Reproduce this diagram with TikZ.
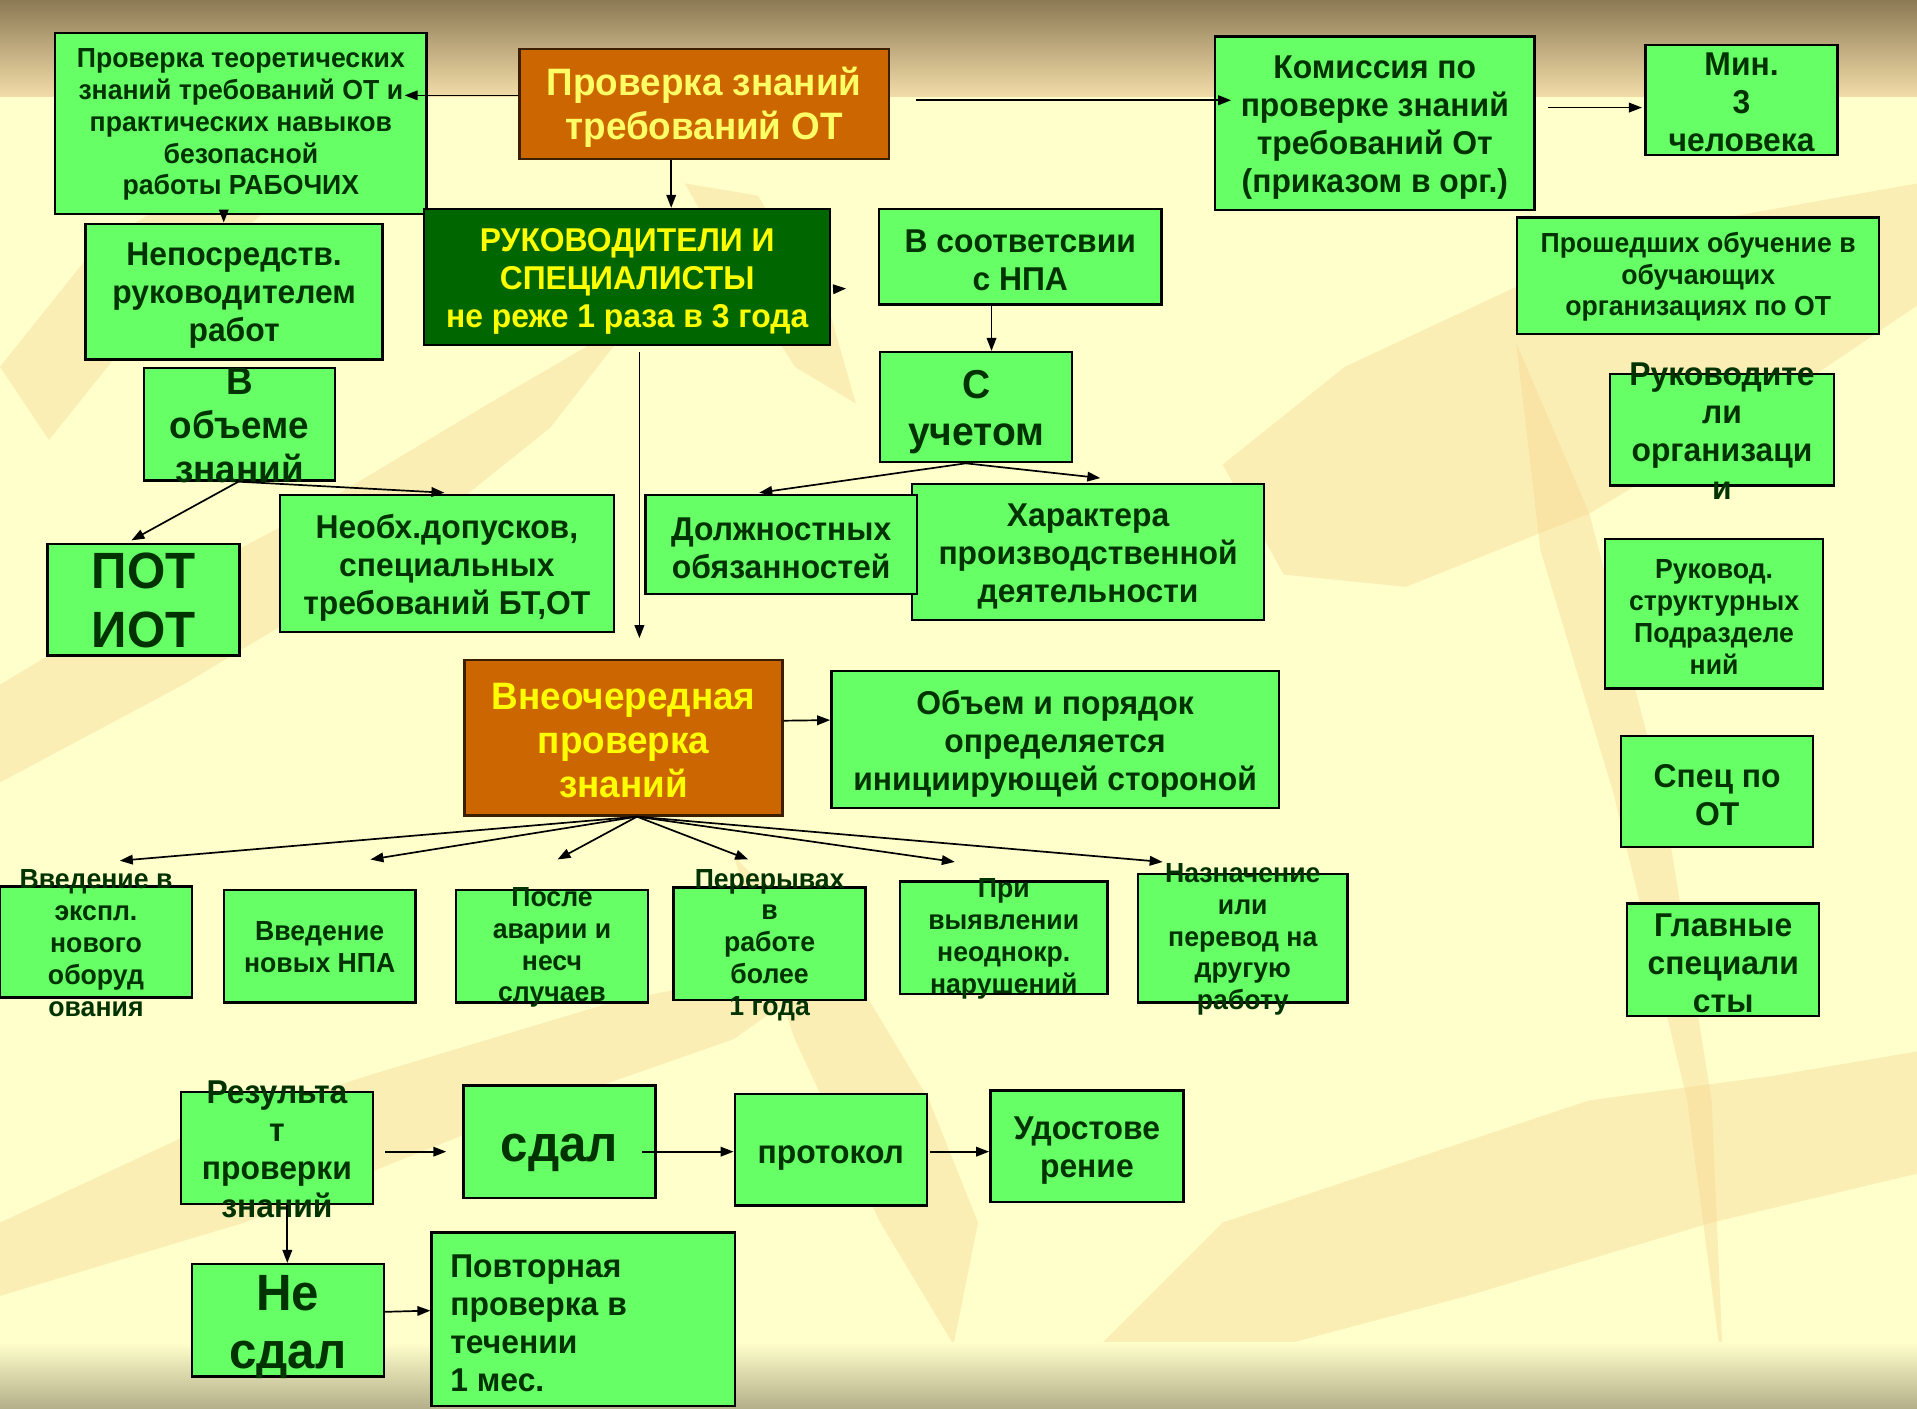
\documentclass[tikz,border=0pt]{standalone}
\usepackage{fontspec}
\setmainfont{Liberation Sans}[FakeStretch=0.965]
\usetikzlibrary{arrows.meta,fit,calc}
\definecolor{bxgreen}{HTML}{66FF66}
\definecolor{txgreen}{HTML}{003300}
\definecolor{orng}{HTML}{CC6600}
\definecolor{orngdraw}{HTML}{3C1E00}
\definecolor{dkgreen}{HTML}{006600}
\definecolor{ylw}{HTML}{FFFF00}
\definecolor{ylwl}{HTML}{FFFF66}
\definecolor{cream}{HTML}{FFFFCC}
\definecolor{leaf}{HTML}{F6D490}
\definecolor{topdark}{HTML}{8C7A55}
\definecolor{toplight}{HTML}{F2DCA8}
\definecolor{botdark}{HTML}{B4AF8A}
\newcommand\bx[8]{\node[#6,fit={(#2,#3) (#4,#5)}] (#1) {};\node[#7] at (#1.center) {#8};}
\begin{document}
\begin{tikzpicture}[x=0.6113pt,y=-0.6113pt,
  box/.style={draw=black,line width=1.2pt,fill=bxgreen,inner sep=0pt},
  obox/.style={box,fill=orng,draw=orngdraw},
  gbox/.style={box,fill=dkgreen},
  txt/.style={text=txgreen,align=center,inner sep=0pt},
  ta/.style={txt,yshift=-0.6pt,font=\bfseries\fontsize{13.8pt}{15.9pt}\selectfont},
  tb/.style={txt,yshift=-2pt,font=\bfseries\fontsize{16.5pt}{19pt}\selectfont},
  tc/.style={txt,yshift=-1.5pt,font=\bfseries\fontsize{19.1pt}{22pt}\selectfont},
  td/.style={txt,yshift=-2.4pt,font=\bfseries\fontsize{20.2pt}{23.2pt}\selectfont},
  te/.style={txt,yshift=-1.5pt,font=\bfseries\fontsize{25.5pt}{29.3pt}\selectfont},
  arr/.style={-{Triangle[length=6.5pt,width=4.8pt]},line width=0.85pt,black}]
\useasboundingbox (0,0) rectangle (1568,1152);
% background
\fill[cream] (0,0) rectangle (1568,1152);
\begin{scope}[opacity=0.38]
\fill[leaf] (1000,380) -- (1100,300) -- (1250,230) -- (1400,180) -- (1568,150) -- (1568,250) -- (1450,330) -- (1300,420) -- (1150,480) -- (1050,470) -- cycle;
\fill[leaf] (1240,280) -- (1300,420) -- (1360,650) -- (1400,900) -- (1410,1130) -- (1380,900) -- (1320,650) -- (1260,450) -- cycle;
\fill[leaf] (900,1100) -- (1000,1000) -- (1150,950) -- (1300,900) -- (1450,880) -- (1568,860) -- (1568,960) -- (1400,1000) -- (1200,1060) -- (1050,1100) -- cycle;
\fill[leaf] (0,560) -- (100,500) -- (250,420) -- (400,330) -- (520,260) -- (450,350) -- (300,470) -- (150,560) -- (0,640) -- cycle;
\fill[leaf] (0,1000) -- (150,930) -- (300,880) -- (500,820) -- (700,780) -- (600,850) -- (400,920) -- (200,1000) -- (0,1060) -- cycle;
\fill[leaf] (560,150) -- (620,160) -- (680,260) -- (700,330) -- (650,300) -- (600,220) -- cycle;
\fill[leaf] (600,700) -- (700,800) -- (760,900) -- (800,1000) -- (780,1100) -- (720,1000) -- (650,850) -- cycle;
\fill[leaf] (0,300) -- (80,200) -- (200,130) -- (300,100) -- (220,170) -- (120,260) -- (40,360) -- cycle;
\end{scope}
\shade[top color=topdark,bottom color=toplight] (0,0) rectangle (1568,79);
\shade[top color=cream,bottom color=botdark] (0,1098) rectangle (1568,1152);
% boxes
\bx{theory}{45}{27}{349}{175}{box}{ta}{Проверка теоретических\\знаний требований ОТ и\\практических навыков\\безопасной\\работы РАБОЧИХ}
\bx{title}{425}{40}{727}{130}{obox}{tc,text=ylwl}{Проверка знаний\\требований ОТ}
\bx{kom}{994}{30}{1255}{172}{box}{tb}{Комиссия по\\проверке знаний\\требований От\\(приказом в орг.)}
\bx{min}{1346}{37}{1503}{127}{box}{tb,yshift=1.2pt}{Мин.\\3\\человека}
\bx{nep}{70}{183}{313}{294}{box}{tb}{Непосредств.\\руководителем\\работ}
\bx{ruk}{347}{171}{679}{282}{gbox}{tb,text=ylw}{РУКОВОДИТЕЛИ И\\СПЕЦИАЛИСТЫ\\не реже 1 раза в 3 года}
\bx{vsoot}{719}{171}{950}{249}{box}{tb}{В соответсвии\\с НПА}
\bx{prosh}{1241}{178}{1537}{273}{box}{ta}{Прошедших обучение в\\обучающих\\организациях по ОТ}
\bx{vob}{118}{301}{274}{393}{box}{tc,yshift=1pt}{В\\объеме\\знаний}
\bx{such}{720}{288}{877}{378}{box}{td}{С\\учетом}
\bx{rorg}{1317}{306}{1500}{397}{box}{tb,yshift=1.5pt}{Руководите\\ли\\организаци\\и}
\bx{pot}{39}{445}{196}{536}{box}{te,yshift=1pt}{ПОТ\\ИОТ}
\bx{neobh}{229}{405}{502}{517}{box}{tb}{Необх.допусков,\\специальных\\требований БТ,ОТ}
\bx{har}{746}{396}{1034}{507}{box}{tb}{Характера\\производственной\\деятельности}
\bx{dolzh}{528}{405}{750}{486}{box}{tb}{Должностных\\обязанностей}
\bx{rstr}{1313}{441}{1491}{563}{box}{ta,yshift=-1pt}{Руковод.\\структурных\\Подразделе\\ний}
\bx{vne}{380}{540}{640}{667}{obox}{tc,text=ylw}{Внеочередная\\проверка\\знаний}
\bx{obem}{680}{549}{1046}{661}{box}{tb}{Объем и порядок\\определяется\\инициирующей стороной}
\bx{spec}{1326}{602}{1483}{693}{box}{tb}{Спец по\\ОТ}
\bx{glav}{1331}{739}{1488}{831}{box}{tb}{Главные\\специали\\сты}
\bx{va}{0}{725}{157}{816}{box}{ta}{Введение в\\экспл.\\нового\\оборуд\\ования}
\bx{vb}{183}{728}{340}{820}{box}{ta}{Введение\\новых НПА}
\bx{vc}{373}{728}{530}{820}{box}{ta}{После\\аварии и\\несч\\случаев}
\bx{vd}{551}{726}{708}{818}{box}{ta}{Перерывах\\в\\работе\\более\\1 года}
\bx{ve}{736}{721}{906}{813}{box}{ta}{При\\выявлении\\неоднокр.\\нарушений}
\bx{vf}{931}{715}{1102}{820}{box}{ta}{Назначение\\или\\перевод на\\другую\\работу}
\bx{res}{148}{893}{305}{985}{box}{tb,yshift=1.2pt}{Результа\\т\\проверки\\знаний}
\bx{sdal}{379}{888}{536}{980}{box}{te,yshift=-4pt}{сдал}
\bx{prot}{601}{895}{758}{986}{box}{tb,yshift=-2.2pt}{протокол}
\bx{udost}{810}{892}{968}{983}{box}{tb}{Удостове\\рение}
\bx{nesdal}{157}{1034}{314}{1126}{box}{te,yshift=-1.8pt}{Не\\сдал}
\node[box,fit={(353,1008) (601,1150)}] (povt) {};
\node[tb,align=left,anchor=west] at ([shift={(16,0)}]povt.west) {Повторная\\проверка в\\течении\\1 мес.};
% connectors
\draw[arr] ([shift={(0,-7)}]title.west) -- ([shift={(-19,-23)}]theory.east);
\draw[arr,line width=1.05pt] ([shift={(21,-3)}]title.east) -- ([shift={(14,-19)}]kom.west);
\draw[arr] ([shift={(10,-13)}]kom.east) -- ([shift={(-2,6)}]min.west);
\draw[arr] ([shift={(-27,0)}]title.south) -- ([shift={(-27,0)}]title.south |- ruk.north);
\draw[arr] ([shift={(-14,0)}]theory.south) -- ([shift={(-14,0)}]theory.south |- nep.north);
\draw[arr] ([shift={(3,10)}]ruk.east) -- ([shift={(-26,26)}]vsoot.west);
\draw[arr] ([shift={(-23.5,0)}]vsoot.south) -- ([shift={(-23.5,0)}]vsoot.south |- such.north);
\draw[arr] ([shift={(10,5)}]ruk.south) -- ([shift={(13,-17)}]vne.north);
\draw[arr] ([shift={(-1,0)}]vob.south) -- ([shift={(-10,-2)}]pot.north);
\draw[arr] ([shift={(-1,0)}]vob.south) -- ([shift={(-2,-1)}]neobh.north);
\draw[arr] ([shift={(-8.5,0)}]such.south) -- ([shift={(-18,-1)}]dolzh.north);
\draw[arr] ([shift={(-8.5,0)}]such.south) -- ([shift={(10,-4)}]har.north);
\draw[arr] ([shift={(0,-14)}]vne.east) -- ([shift={(0,-16)}]obem.west);
\foreach \t/\dx/\dy in {va/19.5/-20, vb/41.5/-24, vc/4.5/-24, vd/-17.5/-22, ve/-40/-15, vf/-65.5/-9}
  \draw[arr] ([shift={(11,0)}]vne.south) -- ([shift={(\dx,\dy)}]\t.north);
\draw[arr] ([shift={(9,3)}]res.east) -- ([shift={(-13,8)}]sdal.west);
\draw[arr] ([shift={(-12,8)}]sdal.east) -- ([shift={(0,1.5)}]prot.west);
\draw[arr] ([shift={(2,1.5)}]prot.east) -- ([shift={(0,4.5)}]udost.west);
\draw[arr] ([shift={(8.5,0)}]res.south) -- ([shift={(8.5,0)}]res.south |- nesdal.north);
\draw[arr] ([shift={(0,-7)}]nesdal.east) -- ([shift={(0,-7)}]povt.west);
\end{tikzpicture}
\end{document}
